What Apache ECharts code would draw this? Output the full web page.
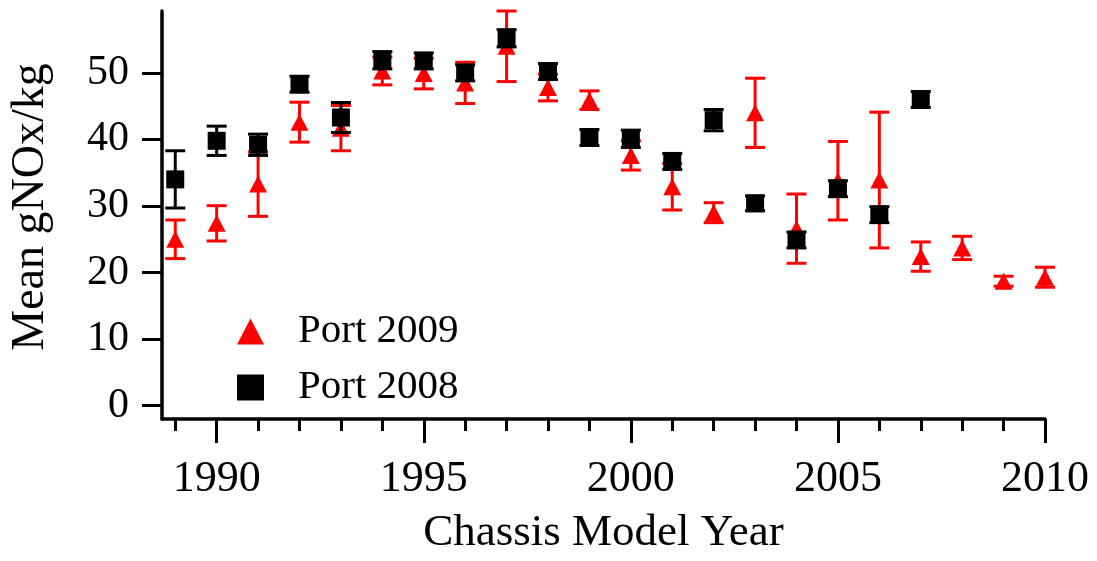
<!DOCTYPE html>
<html>
<head>
<meta charset="utf-8">
<title>Mean gNOx/kg by Chassis Model Year</title>
<script src="https://cdn.jsdelivr.net/npm/echarts@6/dist/echarts.min.js"></script>
<style>
  html, body { margin: 0; padding: 0; background: #fff; }
  #chart { width: 1097px; height: 561px; }
</style>
</head>
<body>
<div id="chart"></div>
<script>
// Port 2009 survey (red triangles): model year, mean, error half-width
const years2009 = [1989, 1990, 1991, 1992, 1993, 1994, 1995, 1996, 1997, 1998, 1999,
                   2000, 2001, 2002, 2003, 2004, 2005, 2006, 2007, 2008, 2009, 2010];
const mean2009  = [25.0, 27.4, 33.3, 42.6, 41.7, 50.3, 49.9, 48.5, 54.0, 47.8, 45.9,
                   37.6, 32.9, 29.0, 44.0, 26.6, 33.8, 33.9, 22.4, 23.7, 18.7, 19.3];
const err2009   = [2.9, 2.65, 4.85, 3.0, 3.4, 2.1, 2.3, 3.1, 5.3, 2.0, 1.4,
                   2.2, 3.5, 1.5, 5.2, 5.2, 5.9, 10.2, 2.2, 1.75, 0.75, 1.5];

// Port 2008 survey (black squares)
const years2008 = [1989, 1990, 1991, 1992, 1993, 1994, 1995, 1996, 1997, 1998,
                   1999, 2000, 2001, 2002, 2003, 2004, 2005, 2006, 2007];
const mean2008  = [34.0, 39.8, 39.2, 48.3, 43.3, 51.9, 51.8, 50.0, 55.2, 50.2,
                   40.3, 40.1, 36.7, 42.9, 30.4, 24.9, 32.6, 28.7, 46.0];
const err2008   = [4.3, 2.2, 1.6, 1.2, 2.25, 1.3, 1.2, 1.2, 1.3, 1.2,
                   1.2, 1.3, 1.2, 1.6, 1.1, 1.2, 1.2, 1.2, 1.2];

// Axis ticks
const majorYears = [1990, 1995, 2000, 2005, 2010];
const allYears = [];
for (let y = 1989; y <= 2010; y++) allYears.push(y);
const yTicks = [0, 10, 20, 30, 40, 50];

const FONT = '"Liberation Serif", "Times New Roman", serif';
const RED = '#ff0000';
const BLACK = '#000000';

function pointData(xs, ys) {
  return xs.map((x, i) => [x, ys[i]]);
}
function barData(xs, ys, es) {
  return xs.map((x, i) => [x, ys[i] - es[i], ys[i] + es[i]]);
}

// Vertical error bar with horizontal caps
function errorBarRenderer(color) {
  return function (params, api) {
    const x = api.value(0);
    const lo = api.coord([x, api.value(1)]);
    const hi = api.coord([x, api.value(2)]);
    const half = 10;
    const style = { stroke: color, lineWidth: 3 };
    return {
      type: 'group',
      children: [
        { type: 'line', shape: { x1: lo[0], y1: lo[1], x2: hi[0], y2: hi[1] }, style },
        { type: 'line', shape: { x1: hi[0] - half, y1: hi[1], x2: hi[0] + half, y2: hi[1] }, style },
        { type: 'line', shape: { x1: lo[0] - half, y1: lo[1], x2: lo[0] + half, y2: lo[1] }, style }
      ]
    };
  };
}

const chart = echarts.init(document.getElementById('chart'), null, { renderer: 'canvas' });

const xMin = 1988.68, xMax = 2010;

chart.setOption({
  animation: false,
  backgroundColor: '#ffffff',
  grid: { left: 160, right: 52, top: 11, bottom: 142, containLabel: false },
  legend: {
    data: ['Port 2009', 'Port 2008'],
    orient: 'vertical',
    left: 232,
    top: 306,
    itemWidth: 27,
    itemHeight: 26,
    itemGap: 15,
    textStyle: { fontFamily: FONT, fontSize: 41, color: '#000',
                 padding: [0, 0, 0, 29] }
  },
  xAxis: [
    {
      type: 'value',
      min: xMin,
      max: xMax,
      position: 'bottom',
      axisLine: { show: true, onZero: false, lineStyle: { color: BLACK, width: 3.5 } },
      axisTick: { show: true, inside: false, length: 24, customValues: majorYears,
                  lineStyle: { color: BLACK, width: 3 } },
      axisLabel: { show: true, customValues: majorYears, margin: 38,
                   formatter: v => String(v),
                   fontFamily: FONT, fontSize: 44, color: '#000' },
      splitLine: { show: false },
      name: 'Chassis Model Year',
      nameLocation: 'middle',
      nameGap: 92,
      nameTextStyle: { fontFamily: FONT, fontSize: 45, color: '#000' }
    },
    {
      type: 'value',
      min: xMin,
      max: xMax,
      position: 'bottom',
      axisLine: { show: false, onZero: false },
      axisTick: { show: true, inside: false, length: 12, customValues: allYears,
                  lineStyle: { color: BLACK, width: 3 } },
      axisLabel: { show: false },
      splitLine: { show: false }
    }
  ],
  yAxis: {
    type: 'value',
    min: -2,
    max: 59.3,
    axisLine: { show: true, onZero: false, lineStyle: { color: BLACK, width: 3.5 } },
    axisTick: { show: true, inside: false, length: 20, customValues: yTicks,
                lineStyle: { color: BLACK, width: 3 } },
    axisLabel: { show: true, customValues: yTicks, margin: 33,
                 fontFamily: FONT, fontSize: 42, color: '#000' },
    splitLine: { show: false },
    name: 'Mean gNOx/kg',
    nameLocation: 'middle',
    nameGap: 108,
    nameTextStyle: { fontFamily: FONT, fontSize: 46, color: '#000', padding: [0, 0, 0, 16] }
  },
  series: [
    {
      name: 'err2009',
      type: 'custom',
      xAxisIndex: 0,
      z: 2,
      renderItem: errorBarRenderer(RED),
      data: barData(years2009, mean2009, err2009),
      clip: false
    },
    {
      name: 'Port 2009',
      type: 'scatter',
      xAxisIndex: 0,
      z: 3,
      symbol: 'triangle',
      symbolSize: [18, 17],
      itemStyle: { color: RED, opacity: 1 },
      data: pointData(years2009, mean2009),
      clip: false
    },
    {
      name: 'err2008',
      type: 'custom',
      xAxisIndex: 0,
      z: 4,
      renderItem: errorBarRenderer(BLACK),
      data: barData(years2008, mean2008, err2008),
      clip: false
    },
    {
      name: 'Port 2008',
      type: 'scatter',
      xAxisIndex: 0,
      z: 5,
      symbol: 'rect',
      symbolSize: [18, 18],
      itemStyle: { color: BLACK, opacity: 1 },
      data: pointData(years2008, mean2008),
      clip: false
    }
  ]
});
</script>
</body>
</html>
